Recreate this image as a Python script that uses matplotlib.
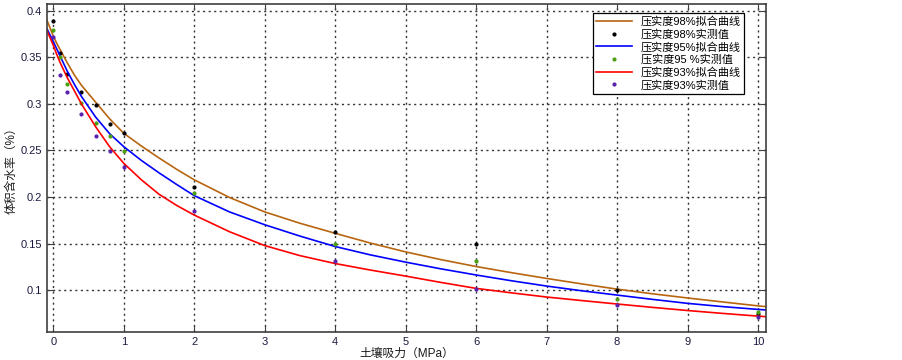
import matplotlib
matplotlib.use("Agg")
import matplotlib.pyplot as plt

# fonts: latin first, CJK fallback
plt.rcParams['font.family'] = ['Liberation Sans', 'Noto Sans CJK SC', 'DejaVu Sans']
plt.rcParams['axes.unicode_minus'] = False

# 拟合曲线
x_fit = [-0.09, 0, 0.05, 0.1, 0.2, 0.3, 0.4, 0.6, 0.8, 1, 1.25, 1.5, 1.75, 2,
         2.5, 3, 3.5, 4, 4.5, 5, 5.5, 6, 6.5, 7, 7.5, 8, 8.5, 9, 9.5, 10, 10.11]
fit98 = [0.390, 0.373, 0.365, 0.358, 0.344, 0.331, 0.320, 0.302, 0.284, 0.2685,
         0.2548, 0.2420, 0.2298, 0.2185, 0.1995, 0.1840, 0.1718, 0.1610, 0.1505,
         0.1410, 0.1327, 0.1253, 0.1187, 0.1125, 0.1066, 0.1010, 0.0960, 0.0915,
         0.0872, 0.0830, 0.0822]
fit95 = [0.381, 0.367, 0.359, 0.351, 0.335, 0.321, 0.308, 0.286, 0.268, 0.2541,
         0.2393, 0.2260, 0.2135, 0.2015, 0.1840, 0.1702, 0.1580, 0.1468, 0.1378,
         0.1300, 0.1228, 0.1162, 0.1100, 0.1043, 0.0992, 0.0946, 0.0900, 0.0857,
         0.0822, 0.0792, 0.0786]
fit93 = [0.379, 0.363, 0.353, 0.344, 0.328, 0.314, 0.300, 0.2756, 0.254, 0.2362,
         0.2185, 0.2030, 0.1910, 0.1806, 0.1627, 0.1478, 0.1370, 0.1285, 0.1215,
         0.1150, 0.1082, 0.1018, 0.0970, 0.0925, 0.0887, 0.0850, 0.0814, 0.0780,
         0.0749, 0.0720, 0.0714]

# 实测值
x_obs = [0, 0.1, 0.2, 0.4, 0.6, 0.8, 1, 2, 4, 6, 8, 10]
obs98 = [0.389, 0.3545, 0.332, 0.313, 0.299, 0.279, 0.2685, 0.211, 0.1625, 0.150, 0.100, 0.0745]
obs95 = [0.380, 0.350, 0.3215, 0.3007, 0.280, 0.2656, 0.2495, 0.2046, 0.150, 0.131, 0.090, 0.076]
obs93 = [0.372, 0.331, 0.3125, 0.289, 0.2656, 0.2495, 0.2326, 0.185, 0.1315, 0.1014, 0.084, 0.071]

x_ticks = list(range(0, 11))
y_ticks = [0.1, 0.15, 0.2, 0.25, 0.3, 0.35, 0.4]

fig = plt.figure(figsize=(9.03, 3.6), dpi=100)
ax = fig.add_axes([0.052, 0.078, 0.796, 0.911])

ax.plot(x_fit, fit98, color='#B8650F', lw=1.2, label='压实度98%拟合曲线')
ax.plot(x_obs, obs98, '.', color='black', ms=4, label='压实度98%实测值')
ax.plot(x_fit, fit95, color='#0000FF', lw=1.2, label='压实度95%拟合曲线')
ax.plot(x_obs, obs95, '.', color='#4CA010', ms=4, label='压实度95 %实测值')
ax.plot(x_fit, fit93, color='#FF0000', lw=1.2, label='压实度93%拟合曲线')
ax.plot(x_obs, obs93, '.', color='#5A20B0', ms=4, label='压实度93%实测值')

ax.set_xlim(-0.09, 10.11)
ax.set_ylim(0.055, 0.4075)
ax.set_xticks(x_ticks)
ax.set_xticklabels([str(v) for v in x_ticks])
ax.set_yticks(y_ticks)
ax.set_yticklabels(['0.1', '0.15', '0.2', '0.25', '0.3', '0.35', '0.4'])

ax.grid(True, linestyle=(0, (1.5, 2.5)), color='#333333', lw=1)
ax.tick_params(direction='in', top=True, right=True, length=4,
               labelsize=8, labelcolor='#1a1a40', color='#404040')
for s in ax.spines.values():
    s.set_color('#404040')
    s.set_linewidth(1.2)

ax.set_xlabel('土壤吸力（MPa）', fontsize=8.5, color='#1a1a1a', labelpad=1)
ax.set_ylabel('体积含水率（%）', fontsize=8.5, color='#1a1a1a', labelpad=2)

leg = ax.legend(loc='upper right', bbox_to_anchor=(0.978, 0.99), fontsize=8,
                handlelength=3.2, labelspacing=0.18, borderpad=0.3,
                fancybox=False, framealpha=1, edgecolor='black')
leg.get_frame().set_linewidth(0.9)

fig.savefig('out.png', dpi=100)
